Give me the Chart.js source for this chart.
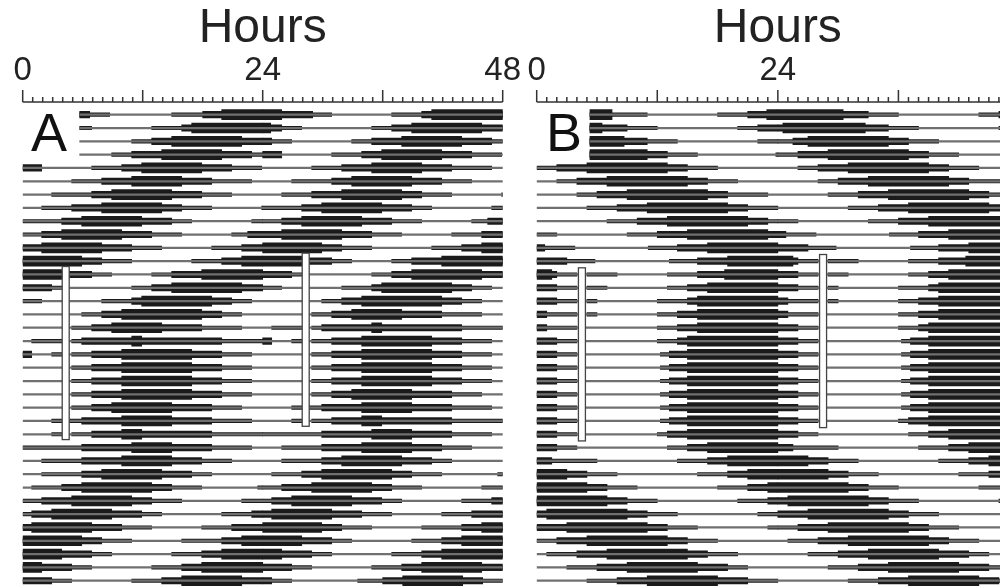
<!DOCTYPE html>
<html>
<head>
<meta charset="utf-8">
<script src="https://cdn.jsdelivr.net/npm/chart.js@4.4.0/dist/chart.umd.min.js"></script>
<style>
  html, body { margin: 0; padding: 0; background: #fff; overflow: hidden; }
  #wrap { position: relative; width: 1000px; height: 587px; overflow: hidden; }
  canvas { position: absolute; top: 0; }
  #chartA { left: 0; }
  #chartB { left: 514px; }
  .panel { position: absolute; font-family: "Liberation Sans", Arial, sans-serif; font-size: 54px; line-height: 1; color: #111; }
</style>
</head>
<body>
<div id="wrap">
  <canvas id="chartA" width="525" height="587"></canvas>
  <canvas id="chartB" width="525" height="587"></canvas>
  <div class="panel" style="left:31px; top:105px">A</div>
  <div class="panel" style="left:546px; top:105px">B</div>
</div>
<script>
// tick labels on the hour axis
const hourLabels = [0, 24, 48];
const rowCount = 36;      // rows in each actogram (double plotted, 48 h per row)
const lateRows = 4;       // first rows start late (panel letter sits there)

// Panel A: activity per day, hours [start, end], three activity levels
const aStart = 5.7;
const aLo = [
  [[5.7, 8.7], [14.9, 24]], [[0, 6.9], [12.9, 24]], [[0, 3.9], [10.9, 24]], [[0, 2.9], [8.9, 24]],
  [[0, 1.9], [6.9, 23.9]], [[4.9, 22.9]], [[2.9, 20.9]], [[1.9, 18.9], [23.9, 24]],
  [[0, 16.9], [22.9, 24]], [[0, 15.9], [20.9, 24]], [[0, 13.9], [18.9, 24]], [[0, 10.9], [16.9, 24]],
  [[0, 8.9], [12.9, 24]], [[0, 3.9], [10.9, 24]], [[0, 1.9], [7.9, 22.9]], [[5.9, 21.9]],
  [[4.9, 21.9]], [[0.9, 3.9], [4.9, 24]], [[0, 0.9], [2.9, 3.9], [4.9, 22.9]], [[4.9, 22.9]],
  [[4.9, 22.9]], [[4.9, 22.9]], [[4.9, 21.9]], [[2.9, 3.9], [4.6, 22.9]],
  [[2.9, 3.9], [4.9, 24]], [[0, 22.9]], [[1.9, 20.9]], [[1.9, 18.9]],
  [[0.9, 17.9], [23.5, 24]], [[0, 15.9], [21.9, 24]], [[0, 13.9], [19.9, 24]], [[0, 12.9], [17.9, 24]],
  [[0, 10.9], [15.9, 24]], [[0, 8.9], [14.9, 24]], [[0, 6.9], [12.9, 24]], [[0, 4.9], [10.9, 24]],
  [[0, 2.9], [9.5, 24]]
];
const aMid = [
  [[5.7, 6.7], [18, 24]], [[0, 5], [15.9, 24]], [[0, 1.9], [12.9, 24]], [[0, 0.9], [10.9, 22.9]],
  [[0, 1.9], [9.9, 20.9]], [[7.9, 18.9]], [[6.9, 17.9]], [[4.9, 15.9]],
  [[3.9, 14.9]], [[1.9, 12.9], [22.5, 24]], [[0, 10.9], [21.9, 24]], [[0, 7.9], [19.9, 24]],
  [[0, 6.9], [14.9, 24]], [[0, 2.9], [12.9, 24]], [[10.9, 20.9]], [[7.9, 19.9]],
  [[6.9, 17.9]], [[5.9, 19.9]], [[0, 0.9], [6.9, 19.9]], [[6.9, 19.9]],
  [[6.9, 19.9]], [[6.9, 19.9]], [[6.9, 18.9]], [[5.9, 18.9]],
  [[6.9, 18.9]], [[5.9, 18.9]], [[5.9, 17.9]], [[5.9, 16.9]],
  [[3.9, 14.9]], [[1.9, 12.9]], [[0.9, 11.9], [22.9, 24]], [[0, 9.9], [20.9, 24]],
  [[0, 7.9], [19.9, 24]], [[0, 6.9], [17.9, 24]], [[0, 4.9], [15.9, 24]], [[0, 2.9], [13.9, 24]],
  [[0, 0.9], [12, 22]]
];
const aHi = [
  [[19.9, 24]], [[0, 1.9], [16.9, 24]], [[0, 0.8], [14.9, 21.9]], [[13.9, 19.9]],
  [[11.9, 17.9]], [[10.9, 15.9]], [[8.9, 14.9]], [[7.9, 13.9]],
  [[5.9, 11.9]], [[3.9, 9.9]], [[1.9, 7.9]], [[0, 5.9], [21.9, 24]],
  [[0, 3.9], [17.9, 24]], [[14.9, 21.9]], [[11.9, 18.9]], [[9.9, 17.9]],
  [[8.9, 13.9]], [[10.9, 11.9]], [[9.9, 16.9]], [[9.9, 16.9]],
  [[9.9, 16.9]], [[9.9, 16.9]], [[8.9, 14.9]], [[9.9, 14.9]],
  [[9.9, 11.9]], [[10.9, 14.9]], [[9.9, 14.9]], [[7.9, 13.9]],
  [[5.9, 12.9]], [[4.9, 10.9]], [[2.9, 8.9]], [[0.9, 6.9]],
  [[0, 5.9], [21.9, 24]], [[0, 3.9], [19.9, 24]], [[0, 1.9], [17.9, 24]], [[15.9, 21.9]],
  [[14, 20]]
];
// light pulse marker: hour, first day, last day
const aPulse = [4.3, 11.4, 24.4];

// Panel B
const bStart = 5.3;
const bLo = [
  [[5.3, 11], [18, 24]], [[0, 12], [20, 24]], [[0, 14], [22, 24]], [[0, 16], [23.8, 24]],
  [[0, 18]], [[2, 20]], [[4, 23]], [[5, 24]],
  [[7, 24]], [[0, 2], [9, 24]], [[0, 3.8], [11.1, 24]], [[0, 5.8], [13.2, 24]],
  [[0, 4], [5, 8], [13, 24]], [[0, 4], [5, 7], [13, 24]], [[0, 4], [5, 6], [12, 24]], [[0, 4], [5, 6], [12, 24]],
  [[0, 4], [12, 24]], [[0, 4], [12, 24]], [[0, 4], [12.3, 24]], [[0, 4], [12.3, 24]],
  [[0, 4], [12.3, 24]], [[0, 4], [12.3, 24]], [[0, 4], [12.3, 24]], [[0, 4], [12.3, 24]],
  [[0, 4], [12, 24]], [[0, 4], [13, 24]], [[0, 6], [14, 24]], [[0, 8], [16, 24]],
  [[0, 10], [18, 24]], [[0, 12], [20, 24]], [[0, 14], [22, 24]], [[0, 16], [23, 24]],
  [[0, 18]], [[1, 20]], [[3, 21]], [[5, 24]],
  [[7, 24]]
];
const bMid = [
  [[21, 24]], [[0, 9], [22, 24]], [[0, 11]], [[1.5, 13]],
  [[2, 15]], [[4, 17]], [[6, 19]], [[8, 21]],
  [[10, 23]], [[12, 24]], [[0, 0.8], [14, 24]], [[0, 3], [16, 24]],
  [[0, 2], [16, 24]], [[0, 2], [15, 24]], [[0, 2], [15, 24]], [[0, 1], [14, 24]],
  [[0, 1], [14, 24]], [[0, 2], [14, 24]], [[0, 2], [13.2, 24]], [[0, 2], [13.2, 24]],
  [[0, 2], [13.2, 24]], [[0, 2], [13.2, 24]], [[0, 2], [13.2, 24]], [[0, 2], [13.2, 24]],
  [[0, 2], [13, 24]], [[0, 2], [15, 24]], [[0, 1.5], [17, 24]], [[0, 5], [19, 24]],
  [[0, 7], [21, 24]], [[0, 9], [23, 24]], [[0, 11]], [[0, 13]],
  [[2, 15]], [[4, 17]], [[6, 19]], [[8, 21]],
  [[10, 22]]
];
const bHi = [
  [[5.3, 7.5], [22.9, 24]], [[0, 6.5]], [[0.5, 8.7]], [[3, 11]],
  [[5, 13]], [[7, 15]], [[9, 17]], [[11, 19]],
  [[13, 21]], [[15, 23]], [[17, 24]], [[19, 24]],
  [[0, 1.5], [18.7, 24]], [[17, 24]], [[16, 24]], [[16, 24]],
  [[16, 24]], [[15, 24]], [[15, 24]], [[15, 24]],
  [[15, 24]], [[15, 24]], [[15, 24]], [[15, 24]],
  [[15, 24]], [[17, 24]], [[19, 24]], [[0, 3], [21, 24]],
  [[0, 5], [23, 24]], [[0, 7]], [[1, 9]], [[3, 11]],
  [[5, 13]], [[7, 15]], [[9, 16]], [[11, 18]],
  [[13, 20]]
];
const bPulse = [4.5, 11.5, 24.5];

const fontFamily = '"Liberation Sans", Arial, sans-serif';
const ink = '#1b1b1b';

// double plot: row r shows day r (0-24 h) and day r+1 (24-48 h)
function rowBars(days, start) {
  const out = [];
  for (let r = 0; r < rowCount; r++) {
    const from = r < lateRows ? start : 0;
    [[days[r], 0], [days[r + 1], 24]].forEach(([list, off]) => {
      (list || []).forEach(([s, e]) => {
        const a = Math.max(s + off, from);
        const b = Math.min(e + off, 48);
        if (b > a) out.push({ y: r, x: [a, b] });
      });
    });
  }
  return out;
}

function baseRows(start) {
  const out = [];
  for (let r = 0; r < rowCount; r++) out.push({ y: r, x: [r < lateRows ? start : 0, 48] });
  return out;
}

// axis line with hour ticks, plus the white pulse markers
const decor = {
  id: "decor",
  afterDatasetsDraw(chart, args, opts) {
    const { ctx, chartArea, scales: { x, y } } = chart;
    const top = chartArea.top;
    ctx.save();
    ctx.strokeStyle = "#333";
    ctx.lineWidth = 1.5;
    ctx.beginPath();
    ctx.moveTo(x.getPixelForValue(0), top);
    ctx.lineTo(x.getPixelForValue(48), top);
    for (let h = 0; h <= 48; h++) {
      const px = x.getPixelForValue(h);
      ctx.moveTo(px, top);
      ctx.lineTo(px, top - (h % 12 === 0 ? 12 : 5));
    }
    ctx.stroke();

    const [hour, d0, d1] = opts.pulse;
    [[hour, 0], [hour + 24, -1]].forEach(([h, shift]) => {
      const px = x.getPixelForValue(h);
      const y0 = y.getPixelForValue(d0 + shift);
      const y1 = y.getPixelForValue(d1 + shift);
      ctx.fillStyle = "#fff";
      ctx.fillRect(px - 3.5, y0, 7, y1 - y0);
      ctx.lineWidth = 1.3;
      ctx.strokeStyle = "#444";
      ctx.strokeRect(px - 3.5, y0, 7, y1 - y0);
    });
    ctx.restore();
  },
};

function makeChart(id, lo, mid, hi, start, pulse, padRight) {
  return new Chart(document.getElementById(id), {
    type: "bar",
    data: {
      datasets: [
        { label: "base", data: baseRows(start), backgroundColor: "#707070", barThickness: 1.6, grouped: false },
        { label: "low", data: rowBars(lo, start), backgroundColor: ink, barThickness: 3.5, grouped: false },
        { label: "mid", data: rowBars(mid, start), backgroundColor: ink, barThickness: 6.5, grouped: false },
        { label: "high", data: rowBars(hi, start), backgroundColor: ink, barThickness: 10, grouped: false },
      ],
    },
    options: {
      indexAxis: "y",
      responsive: false,
      animation: false,
      devicePixelRatio: 1,
      layout: { padding: { left: 22.7, right: padRight, top: 0, bottom: 0 } },
      plugins: {
        legend: { display: false },
        tooltip: { enabled: false },
        decor: { pulse: pulse },
      },
      scales: {
        x: {
          type: "linear",
          position: "top",
          min: 0,
          max: 48,
          grid: { display: false, drawTicks: false },
          border: { display: false },
          ticks: {
            stepSize: 1,
            autoSkip: false,
            maxRotation: 0,
            padding: 0,
            color: "#222",
            font: { family: fontFamily, size: 33, lineHeight: 1.88 },
            callback: (v) => (hourLabels.includes(v) ? String(v) : ""),
          },
          title: {
            display: true,
            text: "Hours",
            color: "#222",
            font: { family: fontFamily, size: 48, lineHeight: 1 },
            padding: { top: 5, bottom: -13 },
          },
        },
        y: { type: "linear", reverse: true, offset: false, min: -0.95, max: 35.47, display: false },
      },
    },
    plugins: [decor],
  });
}

makeChart("chartA", aLo, aMid, aHi, aStart, aPulse, 22.3);
makeChart("chartB", bLo, bMid, bHi, bStart, bPulse, 20);
</script>
</body>
</html>
